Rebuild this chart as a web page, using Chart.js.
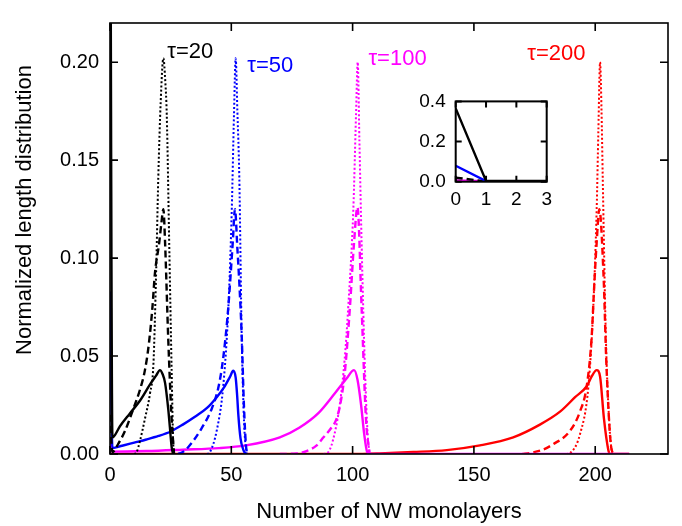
<!DOCTYPE html>
<html>
<head>
<meta charset="utf-8">
<script src="https://cdn.jsdelivr.net/npm/chart.js@4.4.1/dist/chart.umd.min.js"></script>
<style>
  body { margin: 0; background: #fff; }
  #wrap { position: relative; width: 682px; height: 526px; }
  #chart { position: absolute; left: 0; top: 0; }
  #inset { position: absolute; left: 400px; top: 80px; }
</style>
</head>
<body>
<div id="wrap">
  <canvas id="chart" width="682" height="526"></canvas>
  <canvas id="inset" width="165" height="135"></canvas>
</div>
<script>
// length distributions, [monolayers, value]
const blackSolid = [[0,0.365],[1,0.0085],[4.1,0.0142],[8.2,0.0207],[12.4,0.0273],[16.5,0.0355],[19,0.040],[20.6,0.0428],[21.6,0.041],[22.7,0.0363],[24,0.023],[24.7,0.0134],[25.4,0.0036],[26,0]];
const blackDashed = [[0,0.02],[1,0.001],[3.4,0.0052],[6.2,0.0118],[9.6,0.023],[12.4,0.033],[14.4,0.0428],[16,0.056],[17.5,0.075],[18.5,0.092],[20.3,0.108],[21.2,0.118],[22,0.125],[22.7,0.108],[24,0.059],[25.4,0.018],[26.4,0]];
const blackDotted = [[10,0],[11,0.001],[12.4,0.0069],[14.4,0.018],[16.5,0.031],[17.9,0.046],[19,0.092],[19.9,0.141],[20.9,0.18],[22,0.202],[22.8,0.19],[23.4,0.173],[24.4,0.108],[25.4,0.043],[26.1,0.004],[26.5,0]];

const blueSolid = [[0,0.083],[1,0.003],[5,0.0042],[10,0.0058],[15,0.0074],[20,0.0092],[25,0.0115],[30,0.015],[35,0.019],[40,0.0235],[44,0.029],[47,0.034],[49.5,0.0395],[50.8,0.0425],[51.8,0.039],[52.4,0.030],[52.9,0.020],[53.8,0.008],[55,0.002],[56,0]];
const blueDashed = [[28,0],[30,0.001],[32.3,0.0036],[37.1,0.0118],[41.9,0.023],[44.5,0.033],[46,0.043],[47.5,0.058],[48.8,0.0755],[50.6,0.108],[51.5,0.125],[52.5,0.105],[53.4,0.085],[54.3,0.06],[55.2,0.025],[56,0.005],[56.5,0]];
const blueDotted = [[40,0],[41.2,0.001],[44,0.012],[46.7,0.035],[48.8,0.075],[50.2,0.125],[51.1,0.173],[51.8,0.202],[52.5,0.175],[53.3,0.141],[54.3,0.059],[55.3,0.015],[56.3,0]];

const magentaSolid = [[0,0.007],[1,0.0012],[15,0.0015],[30,0.0022],[45,0.003],[56,0.0044],[70,0.0085],[78,0.0134],[86,0.021],[92.7,0.031],[97.6,0.0387],[100.6,0.0428],[102,0.038],[103.5,0.025],[104.8,0.010],[106,0.001],[107,0],[214,0]];
const magentaDashed = [[70,0],[77,0.0003],[81,0.0015],[85.2,0.0044],[88,0.0085],[91,0.013],[93.4,0.018],[95.3,0.028],[96.9,0.043],[98.9,0.075],[100.6,0.108],[102,0.126],[103.7,0.075],[105.5,0.018],[107,0]];
const magentaDotted = [[88,0],[90,0.001],[92.5,0.010],[94.8,0.026],[96.7,0.048],[98.2,0.075],[100.3,0.125],[101.4,0.173],[102.1,0.2],[102.8,0.16],[103.7,0.108],[105.1,0.043],[106.2,0.01],[107,0]];

const redSolid = [[0,0],[100,0],[111,0.0003],[125,0.001],[138.8,0.002],[152.5,0.0044],[166.2,0.0085],[177.2,0.015],[185.5,0.0216],[191.7,0.029],[196.5,0.0346],[198.5,0.0395],[200.6,0.0428],[202,0.0395],[203.6,0.018],[205.4,0.002],[206,0],[214,0]];
const redDashed = [[170,0],[173,0.0005],[178,0.002],[182.7,0.005],[189.6,0.0118],[193.7,0.0216],[196.5,0.0346],[198.5,0.059],[199.5,0.0837],[200.6,0.108],[201.7,0.125],[203.4,0.092],[204.7,0.043],[206.8,0.002],[208,0]];
const redDotted = [[188,0],[189.6,0.0005],[193.7,0.010],[197.2,0.0346],[199.2,0.075],[200.6,0.125],[201.3,0.165],[202,0.2],[202.6,0.175],[203.1,0.141],[204.4,0.059],[206.1,0.01],[207,0]];

// inset: first monolayers only
const insetN = [0, 1, 2, 3];
const insetBlack = [0.365, 0.004, 0.004, 0.004];
const insetBlue = [0.0795, 0.003, 0.003, 0.003];
const insetBlackDashed = [0.02, 0.001, 0.001, 0.001];
const insetMagenta = [0.006, 0.002, 0.002, 0.002];

const tauLabels = ['τ=20', 'τ=50', 'τ=100', 'τ=200'];
const xTicks = [0, 50, 100, 150, 200];
const yTicks = [0, 0.05, 0.10, 0.15, 0.20];
const insetXTicks = [0, 1, 2, 3];
const insetYTicks = [0, 0.2, 0.4];

const colors = ['#000000', '#0000ff', '#ff00ff', '#ff0000'];
const FONT = '"Liberation Sans", Arial, sans-serif';
// label anchors in data units (left edge, vertical middle)
const tagAnchors = [[23.6, 0.2054], [56.6, 0.198], [106.5, 0.2017], [172, 0.2042]];

const styles = {
  solid: { borderWidth: 2.4, borderDash: [] },
  dashed: { borderWidth: 2.4, borderDash: [7, 4] },
  dotted: { borderWidth: 2, borderDash: [2, 2.2] }
};

function line(pairs, color, kind, smooth) {
  return {
    data: pairs.map(([x, y]) => ({ x, y })),
    borderColor: color,
    borderWidth: styles[kind].borderWidth,
    borderDash: styles[kind].borderDash,
    pointRadius: 0,
    cubicInterpolationMode: smooth ? 'monotone' : 'default',
    tension: 0,
    fill: false
  };
}

// inward ticks on all four sides plus box
const framePlugin = {
  id: 'frame',
  afterDatasetsDraw(chart, args, opts) {
    const { ctx, chartArea: a, scales: { x, y } } = chart;
    ctx.save();
    ctx.strokeStyle = '#000';
    ctx.lineWidth = opts.width;
    ctx.beginPath();
    x.ticks.forEach(t => {
      const px = x.getPixelForValue(t.value);
      ctx.moveTo(px, a.bottom); ctx.lineTo(px, a.bottom - opts.tick);
      ctx.moveTo(px, a.top); ctx.lineTo(px, a.top + opts.tick);
    });
    y.ticks.forEach(t => {
      const py = y.getPixelForValue(t.value);
      ctx.moveTo(a.left, py); ctx.lineTo(a.left + opts.tick, py);
      ctx.moveTo(a.right, py); ctx.lineTo(a.right - opts.tick, py);
    });
    ctx.stroke();
    ctx.strokeRect(a.left, a.top, a.right - a.left, a.bottom - a.top);
    ctx.restore();
  }
};

// tau labels and the rotated y title
const tagPlugin = {
  id: 'tags',
  afterDraw(chart) {
    const { ctx, scales: { x, y } } = chart;
    ctx.save();
    ctx.font = '22px ' + FONT;
    ctx.textAlign = 'left';
    ctx.textBaseline = 'middle';
    tauLabels.forEach((t, i) => {
      ctx.fillStyle = colors[i];
      ctx.fillText(t, x.getPixelForValue(tagAnchors[i][0]), y.getPixelForValue(tagAnchors[i][1]));
    });
    ctx.translate(25, 210);
    ctx.rotate(-Math.PI / 2);
    ctx.textAlign = 'center';
    ctx.fillStyle = '#000';
    ctx.fillText('Normalized length distribution', 0, 0);
    ctx.restore();
  }
};

new Chart(document.getElementById('chart'), {
  type: 'line',
  data: {
    datasets: [
      line(blackSolid, colors[0], 'solid', true),
      line(blackDashed, colors[0], 'dashed', true),
      line(blackDotted, colors[0], 'dotted', true),
      line(blueSolid, colors[1], 'solid', true),
      line(blueDashed, colors[1], 'dashed', true),
      line(blueDotted, colors[1], 'dotted', true),
      line(magentaSolid, colors[2], 'solid', true),
      line(magentaDashed, colors[2], 'dashed', true),
      line(magentaDotted, colors[2], 'dotted', true),
      line(redSolid, colors[3], 'solid', true),
      line(redDashed, colors[3], 'dashed', true),
      line(redDotted, colors[3], 'dotted', true)
    ]
  },
  options: {
    responsive: false,
    animation: false,
    layout: { padding: { top: 5, right: 14, left: 0, bottom: 0 } },
    plugins: {
      legend: { display: false },
      tooltip: { enabled: false },
      frame: { width: 1.6, tick: 8 }
    },
    scales: {
      x: {
        type: 'linear',
        min: 0,
        max: 230,
        grid: { display: false, drawTicks: false },
        border: { display: false },
        afterBuildTicks: s => { s.ticks = xTicks.map(v => ({ value: v })); },
        afterFit: s => { s.height = 72; },
        ticks: { color: '#000', padding: 9, font: { family: FONT, size: 20 } },
        title: {
          display: true,
          text: 'Number of NW monolayers',
          color: '#000',
          padding: { top: 0, bottom: 1 },
          font: { family: FONT, size: 22 }
        }
      },
      y: {
        type: 'linear',
        min: 0,
        max: 0.22,
        grid: { display: false, drawTicks: false },
        border: { display: false },
        afterBuildTicks: s => { s.ticks = yTicks.map(v => ({ value: v })); },
        afterFit: s => { s.width = 110; },
        ticks: {
          color: '#000',
          padding: 11,
          font: { family: FONT, size: 20 },
          callback: v => v.toFixed(2)
        }
      }
    }
  },
  plugins: [framePlugin, tagPlugin]
});

const insetLine = (vals, color, kind) => line(insetN.map((n, i) => [n, vals[i]]), color, kind, false);

new Chart(document.getElementById('inset'), {
  type: 'line',
  data: {
    datasets: [
      insetLine(insetBlack, colors[0], 'solid'),
      insetLine(insetBlue, colors[1], 'solid'),
      insetLine(insetBlackDashed, colors[0], 'dashed'),
      insetLine(insetMagenta, colors[2], 'solid')
    ]
  },
  options: {
    responsive: false,
    animation: false,
    layout: { padding: { top: 17.7, right: 18.3, left: 0, bottom: 0 } },
    plugins: {
      legend: { display: false },
      tooltip: { enabled: false },
      frame: { width: 2, tick: 6 }
    },
    scales: {
      x: {
        type: 'linear',
        min: 0,
        max: 3,
        grid: { display: false, drawTicks: false },
        border: { display: false },
        afterBuildTicks: s => { s.ticks = insetXTicks.map(v => ({ value: v })); },
        afterFit: s => { s.height = 33.3; },
        ticks: { color: '#000', padding: 7, font: { family: FONT, size: 19 } }
      },
      y: {
        type: 'linear',
        min: 0,
        max: 0.4,
        grid: { display: false, drawTicks: false },
        border: { display: false },
        afterBuildTicks: s => { s.ticks = insetYTicks.map(v => ({ value: v })); },
        afterFit: s => { s.width = 55.7; },
        ticks: {
          color: '#000',
          padding: 10,
          font: { family: FONT, size: 19 },
          callback: v => v.toFixed(1)
        }
      }
    }
  },
  plugins: [framePlugin]
});
</script>
</body>
</html>
